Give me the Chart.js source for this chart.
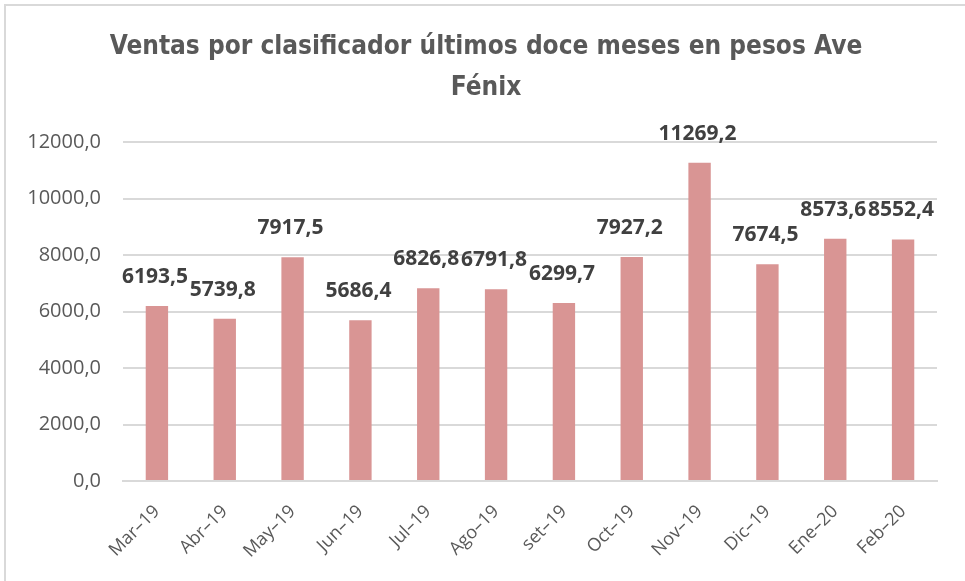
<!DOCTYPE html>
<html><head><meta charset="utf-8">
<script src="https://cdn.jsdelivr.net/npm/chart.js@4"></script>
<style>html,body{margin:0;padding:0;background:#fff}#w{width:965px;height:581px;position:relative}</style>
</head><body><div id="w"><canvas id="c" width="965" height="581"></canvas></div>
<script>
const categories = ["Mar–19","Abr–19","May–19","Jun–19","Jul–19","Ago–19","set–19","Oct–19","Nov–19","Dic–19","Ene–20","Feb–20"];
const ventas = [6193.5,5739.8,7917.5,5686.4,6826.8,6791.8,6299.7,7927.2,11269.2,7674.5,8573.6,8552.4];
const yTicks = [0,2000,4000,6000,8000,10000,12000];
const titleLines = ["Ventas por clasificador últimos doce meses en pesos Ave","Fénix"];

const fmt = v => v.toFixed(1).replace('.', ',');

const frame = {
  id:'frame',
  beforeDraw(ch){
    const c=ch.ctx; c.save(); c.fillStyle='#fff'; c.fillRect(0,0,ch.width,ch.height);
    c.strokeStyle='#d9d9d9'; c.lineWidth=2; c.beginPath();
    c.moveTo(5,581); c.lineTo(5,5); c.lineTo(965,5); c.stroke();
    c.font='bold 26px "DejaVu Sans Condensed", "DejaVu Sans", sans-serif';
    c.fillStyle='#595959'; c.textAlign='center'; c.textBaseline='middle';
    c.fillText(titleLines[0],486,47); c.fillText(titleLines[1],486,88);
    c.restore();
  }
};
const labels = {
  id:'labels',
  afterDatasetsDraw(ch){
    const c=ch.ctx; const meta=ch.getDatasetMeta(0);
    c.save(); c.font='bold 21px "Open Sans", "DejaVu Sans", sans-serif';
    c.fillStyle='#404040'; c.textAlign='center'; c.textBaseline='middle';
    meta.data.forEach((b,i)=>{ c.fillText(fmt(ventas[i]), b.x-2, b.y-29); });
    c.restore();
  }
};

new Chart(document.getElementById('c'),{
  type:'bar',
  data:{labels:categories,datasets:[{data:ventas,backgroundColor:'#d99594',borderWidth:0,categoryPercentage:1,barPercentage:0.33}]},
  options:{
    responsive:false,animation:false,
    layout:{padding:{left:10,right:28,top:142,bottom:0}},
    plugins:{legend:{display:false},tooltip:{enabled:false},title:{display:false}},
    scales:{
      y:{min:0,max:12000,
        afterBuildTicks(s){s.ticks=yTicks.map(v=>({value:v}));},
        afterFit(s){s.width=113;},
        ticks:{color:'#595959',font:{family:'"Open Sans",sans-serif',size:20},padding:22,callback:v=>fmt(v)},
        grid:{color:'#d9d9d9',lineWidth:2,drawTicks:false},
        border:{display:false}
      },
      x:{
        afterFit(s){s.height=100;},
        ticks:{color:'#595959',font:{family:'"Open Sans",sans-serif',size:18},maxRotation:45,minRotation:45,padding:12},
        grid:{display:false},
        border:{color:'#d9d9d9',width:2}
      }
    }
  },
  plugins:[frame,labels]
});
</script></body></html>
